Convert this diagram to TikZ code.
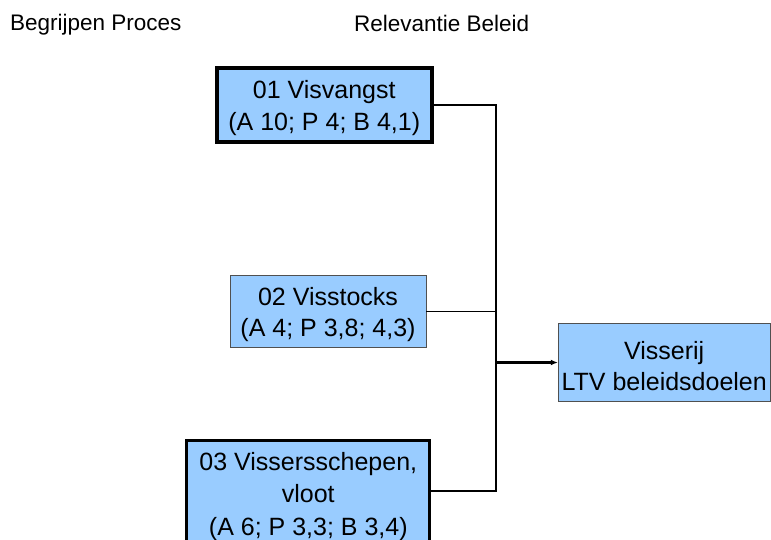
\documentclass[tikz,border=0pt]{standalone}
\usepackage{fontspec}
\setmainfont{Liberation Sans}
\usetikzlibrary{arrows.meta}
\definecolor{boxblue}{RGB}{153,204,255}
\definecolor{thinborder}{RGB}{80,80,80}
\begin{document}
\begin{tikzpicture}[x=1pt,y=-1pt,
  box/.style={draw, fill=boxblue, inner sep=0pt},
  boxtext/.style={align=center, inner sep=0pt, font=\fontsize{25}{31.5}\selectfont},
  thickbox/.style={box, line width=4pt},
  thinbox/.style={box, draw=thinborder, line width=0.8pt},
  medbox/.style={box, line width=3pt},
  header/.style={anchor=west, inner sep=0pt, font=\fontsize{22.5}{26}\selectfont},
  conn/.style={line width=2pt},
  thinconn/.style={line width=1pt}]
\clip (0,0) rectangle (771,540);
\fill[white] (0,0) rectangle (771,540);
\node[header] (h1) at (10,25) {Begrijpen Proces};
\node[header] (h2) at (354,23) {Relevantie Beleid};
\node[thickbox, minimum width=215.5pt, minimum height=74pt] (b1) at (324.25,105) {};
\node[boxtext] (t1) at (324.25,108) {01 Visvangst\\(A 10; P 4; B 4,1)};
\node[thinbox, minimum width=196pt, minimum height=72pt] (b2) at (328,311.3) {};
\node[boxtext] (t2) at (328,314.5) {02 Visstocks\\(A 4; P 3,8; 4,3)};
\node[medbox, minimum width=243pt, minimum height=130pt] (b3) at (308.3,505.8) {};
\node[boxtext, font=\fontsize{25}{32.5}\selectfont] (t3) at (308.3,496.5) {03 Vissersschepen,\\vloot\\(A 6; P 3,3; B 3,4)};
\node[thinbox, minimum width=212pt, minimum height=78.4pt] (b4) at (664.2,362.5) {};
\node[boxtext] (t4) at (664.2,366) {Visserij\\LTV beleidsdoelen};
\coordinate (top) at (495.5,105);
\coordinate (bot) at (495.5,491);
\coordinate (mid) at (495.5,362.5);
\draw[conn] (b1.east) -- (top) -- (bot) -- (b3.east |- bot);
\draw[thinconn] (b2.east) -- (b2.east -| top);
\draw[line width=2.5pt, -{Latex[length=7pt,width=6pt]}] (mid) -- (b4.west);
\end{tikzpicture}
\end{document}
